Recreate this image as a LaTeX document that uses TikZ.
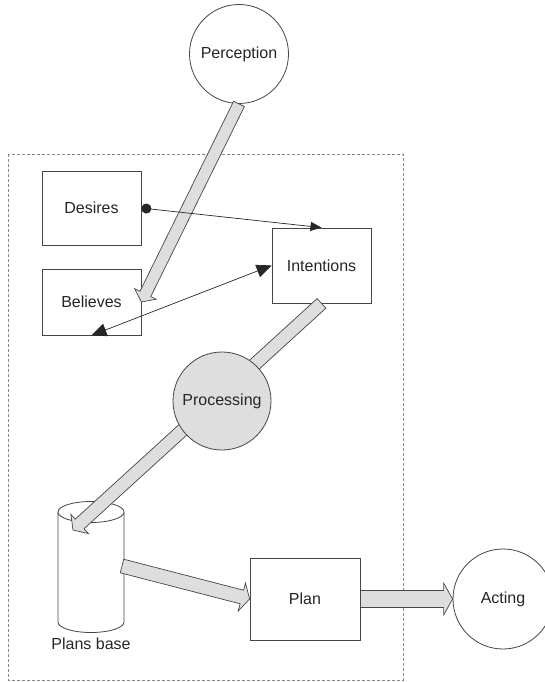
\documentclass[tikz,border=0pt]{standalone}
\usepackage{fontspec}
\setmainfont{Liberation Sans}
\usetikzlibrary{calc,arrows.meta}
\newcommand{\diagfont}{\fontsize{16}{19}\selectfont}
\definecolor{edge}{RGB}{70,70,70}
\definecolor{fatfill}{RGB}{222,222,222}
\definecolor{dashc}{RGB}{135,135,135}
\tikzset{
  box/.style={draw=edge, line width=0.8pt, fill=white, inner sep=0pt, font=\diagfont, text=black!85},
  roundnode/.style={circle, draw=edge, line width=0.8pt, fill=white, inner sep=0pt, font=\diagfont, text=black!85, minimum size=99pt},
  fatarrow/.style={draw=edge, line width=0.7pt, fill=fatfill, line join=miter},
  thin/.style={draw=black!85, line width=0.7pt},
  frame/.style={draw=dashc, line width=0.8pt, dash pattern=on 3pt off 2pt}
}
% #1 start, #2 tip, #3 half shaft width, #4 half head width, #5 head length, #6 helper coordinate name
\newcommand{\fatarr}[6]{%
  \coordinate (#6) at ($(#2)!#5!(#1)$);
  \draw[fatarrow] ($(#1)!#3!90:(#2)$) -- ($(#6)!#3!90:(#2)$) -- ($(#6)!#4!90:(#2)$) -- (#2)
    -- ($(#6)!#4!-90:(#2)$) -- ($(#6)!#3!-90:(#2)$) -- ($(#1)!#3!-90:(#2)$) -- cycle;
}
\begin{document}
\begin{tikzpicture}[x=1pt, y=-1pt]
\useasboundingbox (0,0) rectangle (544,682);
% agent frame
\draw[frame] (8,154) rectangle (403,680);
% boxes
\node[box, minimum width=99pt, minimum height=74pt] (des) at (91.5,208) {Desires};
\node[box, minimum width=99pt, minimum height=66pt] (bel) at (91.5,302) {Believes};
\node[box, minimum width=99pt, minimum height=75pt] (int) at (321.5,265.5) {Intentions};
\node[box, minimum width=110pt, minimum height=82pt] (plan) at (305,599) {Plan};
% circles
\node[roundnode] (perc) at (239,54) {Perception};
\node[roundnode, minimum size=100pt] (act) at (503,599) {Acting};
% plans base cylinder
\coordinate (cyl) at (91,512);
\draw[draw=edge, line width=0.8pt, fill=white] (58,512) -- (58,622)
  .. controls (58,627.8) and (72.8,632.5) .. (91,632.5)
  .. controls (109.2,632.5) and (124,627.8) .. (124,622) -- (124,512);
\draw[draw=edge, line width=0.8pt, fill=white] (cyl) ellipse [x radius=33pt, y radius=10.5pt];
\node[font=\diagfont, text=black!85] (pbl) at (91,644) {Plans base};
\coordinate (cyltip) at (73,530);
\coordinate (cylr) at (122,566);
% fat arrows
\fatarr{perc.south}{bel.east}{6pt}{12pt}{9pt}{h1}
\fatarr{int.south}{cyltip}{6.5pt}{13pt}{9pt}{h2}
\fatarr{cylr}{plan.west}{7pt}{14.5pt}{8pt}{h3}
\fatarr{plan.east}{act.west}{8.5pt}{16pt}{9pt}{h4}
% processing circle on top
\node[roundnode, fill=fatfill, minimum size=98pt] (proc) at (222,401) {Processing};
% thin connectors
\draw[thin, {Circle[length=10pt]}-{Triangle[length=11pt, width=9pt]}] (des.east) -- (int.north);
\draw[thin, {Triangle[length=15pt, width=13pt]}-{Triangle[length=15pt, width=13pt]}] (bel.south) -- (int.west);
\end{tikzpicture}
\end{document}
